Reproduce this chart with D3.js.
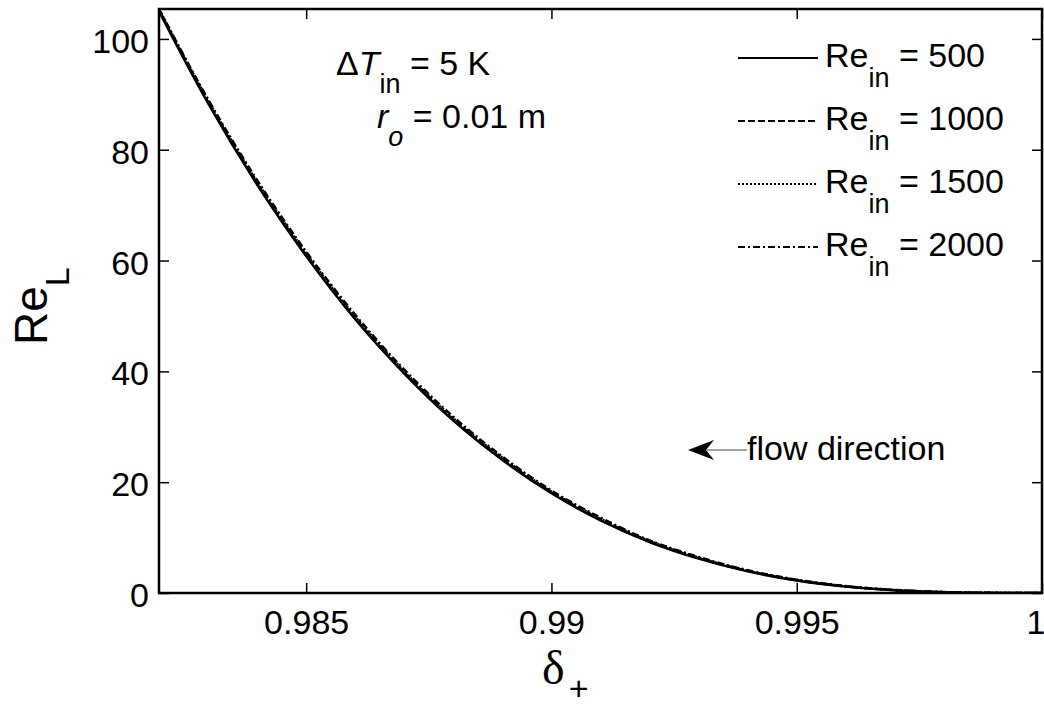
<!DOCTYPE html>
<html>
<head>
<meta charset="utf-8">
<style>
  body { margin: 0; background: #fff; }
  svg { display: block; font-family: "Liberation Sans", Arial, sans-serif; }
  .tick text { font-size: 34px; fill: #000; font-family: "Liberation Sans", Arial, sans-serif; }
</style>
</head>
<body>
<svg width="1044" height="706"></svg>
<script src="https://d3js.org/d3.v7.min.js"></script>
<script>
// delta_+ sample positions
var deltaValues = [0.982, 0.983, 0.984, 0.985, 0.986, 0.987, 0.988, 0.989, 0.990, 0.991,
                   0.992, 0.993, 0.994, 0.995, 0.996, 0.997, 0.998, 0.999, 1.000];
// Re_L, one array per inlet Reynolds number
var re500  = [105.0, 88.4, 73.7, 60.8, 49.4, 39.6, 31.1, 24.0, 18.0, 13.1, 9.2, 6.2, 3.9, 2.25, 1.15, 0.49, 0.14, 0.02, 0];
var re1000 = [105.2, 88.6, 73.9, 61.0, 49.6, 39.8, 31.3, 24.2, 18.2, 13.3, 9.3, 6.3, 4.0, 2.30, 1.20, 0.50, 0.15, 0.02, 0];
var re1500 = [105.4, 88.9, 74.2, 61.3, 49.9, 40.0, 31.5, 24.4, 18.3, 13.4, 9.4, 6.4, 4.0, 2.35, 1.20, 0.52, 0.15, 0.03, 0];
var re2000 = [105.4, 89.1, 74.5, 61.6, 50.2, 40.3, 31.8, 24.6, 18.5, 13.6, 9.5, 6.5, 4.1, 2.40, 1.25, 0.55, 0.16, 0.03, 0];

var seriesNames = ["500", "1000", "1500", "2000"];
var seriesValues = [re500, re1000, re1500, re2000];
var dashes = ["none", "7,3", "2,2", "7,3,2,3"];

var xTicks = [0.985, 0.99, 0.995, 1];
var xTickLabels = ["0.985", "0.99", "0.995", "1"];
var yTicks = [0, 20, 40, 60, 80, 100];

var svg = d3.select("svg"),
    margin = { top: 9, right: 2, bottom: 113, left: 159 },
    width = +svg.attr("width") - margin.left - margin.right,
    height = +svg.attr("height") - margin.top - margin.bottom;

var x = d3.scaleLinear().domain([0.982, 1]).range([0, width]);
var y = d3.scaleLinear().domain([0, 105.4]).range([height, 0]);

var g = svg.append("g").attr("transform", "translate(" + margin.left + "," + margin.top + ")");

g.append("clipPath").attr("id", "clip")
    .append("rect").attr("width", width).attr("height", height);

// ticks on all four sides, pointing inward
var axBottom = g.append("g")
    .attr("transform", "translate(0," + height + ")")
    .call(d3.axisBottom(x).tickValues(xTicks).tickSize(-10).tickPadding(17)
        .tickFormat(function (d, i) { return xTickLabels[i]; }));
var axTop = g.append("g")
    .call(d3.axisTop(x).tickValues(xTicks).tickSize(-10).tickFormat(""));
var axLeft = g.append("g")
    .call(d3.axisLeft(y).tickValues(yTicks).tickSize(-10).tickPadding(10));
var axRight = g.append("g")
    .attr("transform", "translate(" + width + ",0)")
    .call(d3.axisRight(y).tickValues(yTicks).tickSize(-10).tickFormat(""));

axLeft.selectAll(".tick text").attr("dy", "0.4em");
// last x label sits against the page edge
axBottom.selectAll(".tick text").filter(function (d) { return d === 1; })
    .attr("text-anchor", "end").attr("dx", 3);
[axBottom, axTop, axLeft, axRight].forEach(function (a) {
    a.select(".domain").remove();
    a.selectAll(".tick line").attr("stroke", "#000").attr("stroke-width", 1.5);
});

var line = d3.line()
    .x(function (d) { return x(d[0]); })
    .y(function (d) { return y(d[1]); })
    .curve(d3.curveMonotoneX);

seriesValues.forEach(function (vals, i) {
    g.append("path")
        .datum(deltaValues.map(function (d, j) { return [d, vals[j]]; }))
        .attr("clip-path", "url(#clip)")
        .attr("fill", "none")
        .attr("stroke", "#000")
        .attr("stroke-width", 2.5)
        .attr("stroke-dasharray", dashes[i])
        .attr("d", line);
});

// box
g.append("rect")
    .attr("width", width).attr("height", height)
    .attr("fill", "none").attr("stroke", "#000").attr("stroke-width", 2.5);

// legend
var legend = svg.append("g");
seriesNames.forEach(function (name, i) {
    var by = 67 + i * 63;
    legend.append("line")
        .attr("x1", 738).attr("x2", 818)
        .attr("y1", by - 9).attr("y2", by - 9)
        .attr("stroke", "#000").attr("stroke-width", 2)
        .attr("stroke-dasharray", dashes[i]);
    var t = legend.append("text").attr("x", 825).attr("y", by)
        .attr("font-size", 34);
    t.append("tspan").text("Re");
    t.append("tspan").attr("dy", 20).attr("font-size", 27).text("in");
    t.append("tspan").attr("dy", -20).text(" = " + name);
});

// annotation
var a1 = svg.append("text").attr("x", 336).attr("y", 75).attr("font-size", 34);
a1.append("tspan").text("\u0394");
a1.append("tspan").attr("font-style", "italic").text("T");
a1.append("tspan").attr("dy", 18).attr("font-size", 27).text("in");
a1.append("tspan").attr("dy", -18).text(" = 5 K");

var a2 = svg.append("text").attr("x", 377).attr("y", 128).attr("font-size", 34);
a2.append("tspan").attr("font-style", "italic").text("r");
a2.append("tspan").attr("dy", 18).attr("font-size", 27).attr("font-style", "italic").text("o");
a2.append("tspan").attr("dy", -18).text(" = 0.01 m");

// flow direction arrow
svg.append("line")
    .attr("x1", 707).attr("x2", 747).attr("y1", 450).attr("y2", 450)
    .attr("stroke", "#444").attr("stroke-width", 1);
svg.append("path")
    .attr("d", "M688,450 L714,440 L706,450 L714,460 Z")
    .attr("fill", "#000");
svg.append("text").attr("x", 747).attr("y", 460).attr("font-size", 34).text("flow direction");

// axis labels
var yl = svg.append("text")
    .attr("transform", "translate(47,345) rotate(-90)")
    .attr("font-size", 46);
yl.append("tspan").text("Re");
yl.append("tspan").attr("dy", 22).attr("font-size", 34).text("L");

var xl = svg.append("text").attr("x", 542).attr("y", 684);
xl.append("tspan").attr("font-family", "Liberation Serif, Times New Roman, serif")
    .attr("font-size", 48).attr("textLength", 32).text("\u03b4");
xl.append("tspan").attr("dx", 4).attr("dy", 16).attr("font-size", 34).text("+");
</script>
</body>
</html>
